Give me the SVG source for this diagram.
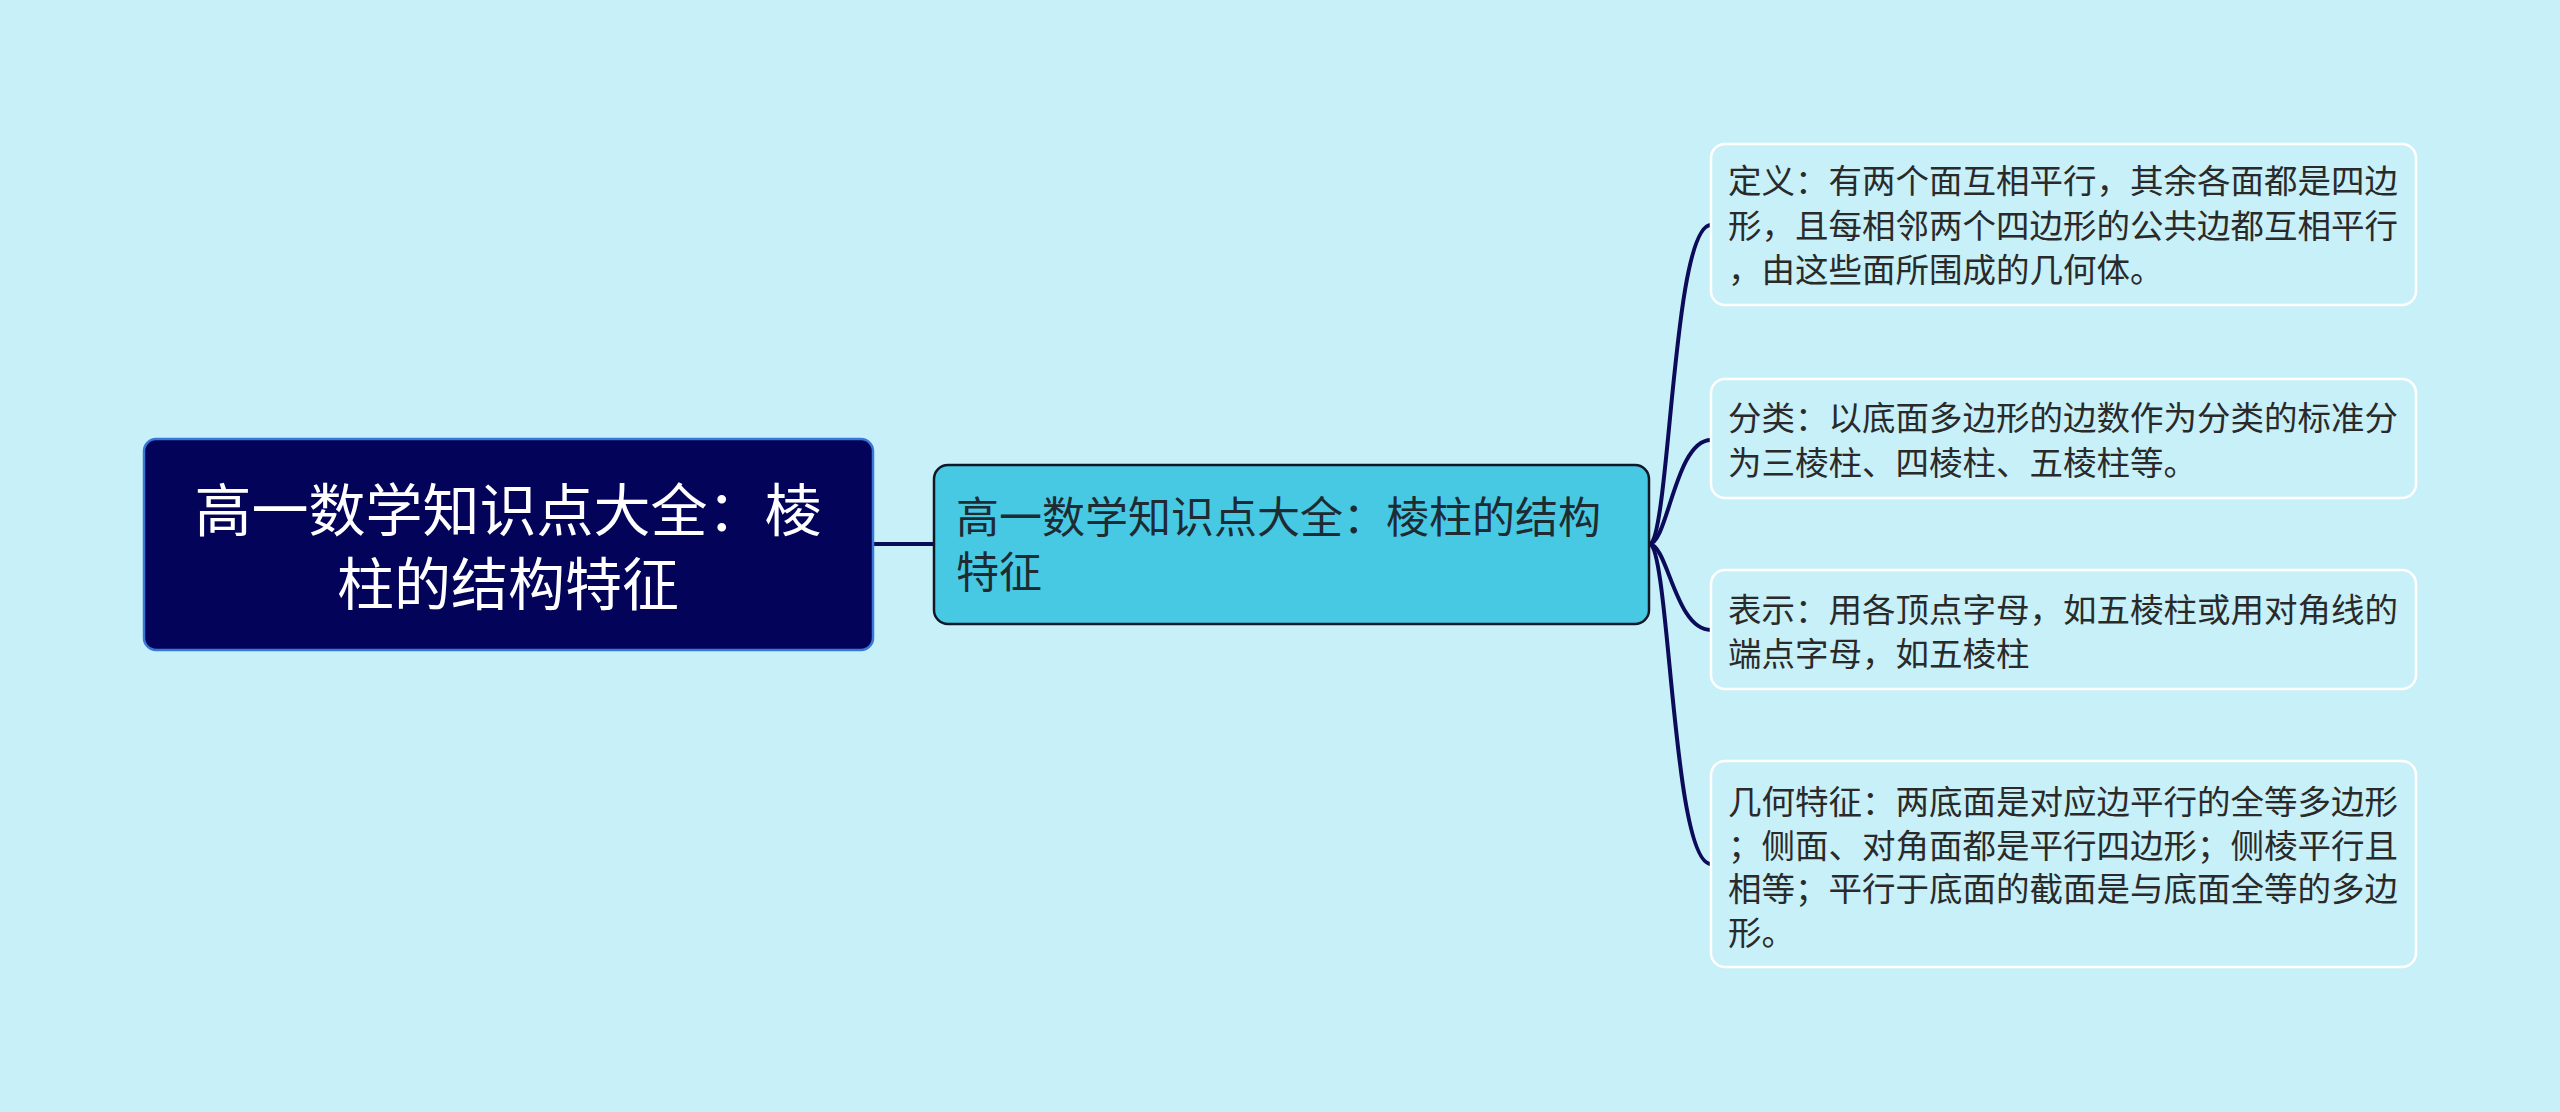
<svg xmlns="http://www.w3.org/2000/svg" width="2560" height="1112" viewBox="0 0 2560 1112">
<style>
text{font-family:"Noto Sans CJK SC","Noto Sans",sans-serif;}
.root rect{fill:#030359;stroke:#3a78d8;stroke-width:2.5;}
.root text{fill:#ffffff;font-size:57px;}
.mid rect{fill:#48c9e3;stroke:#101828;stroke-width:2.5;}
.mid text{fill:#1e2b33;font-size:43px;}
.leaf rect{fill:#c8f0f8;stroke:#ffffff;stroke-width:2.5;}
.leaf text{fill:#2a2a2a;font-size:33.5px;}
.conn path{fill:none;stroke:#0b0b5a;stroke-width:4;}
</style>
<rect width="2560" height="1112" fill="#c8f0f8"/>
<g class="conn">
<path d="M873,544 L934,544" stroke-width="5.5"/>
<path d="M1649,544 C1670,544 1672,225 1711,225"/>
<path d="M1649,544 C1668,544 1675,440 1711,440"/>
<path d="M1649,544 C1668,544 1675,630 1711,630"/>
<path d="M1649,544 C1670,544 1672,864 1711,864"/>
</g>
<g id="root" class="root">
<rect x="144" y="439" width="729" height="211" rx="12"/>
<text x="508" y="531" text-anchor="middle">高一数学知识点大全：棱</text>
<text x="508" y="605" text-anchor="middle">柱的结构特征</text>
</g>
<g id="mid" class="mid">
<rect x="934" y="465" width="715" height="159" rx="14"/>
<text x="956" y="533">高一数学知识点大全：棱柱的结构</text>
<text x="956" y="588">特征</text>
</g>
<g id="leaf1" class="leaf">
<rect x="1711" y="144" width="705" height="161" rx="14"/>
<text x="1728" y="193">定义：有两个面互相平行，其余各面都是四边</text>
<text x="1728" y="238">形，且每相邻两个四边形的公共边都互相平行</text>
<text x="1728" y="282">，由这些面所围成的几何体。</text>
</g>
<g id="leaf2" class="leaf">
<rect x="1711" y="379" width="705" height="119" rx="14"/>
<text x="1728" y="430">分类：以底面多边形的边数作为分类的标准分</text>
<text x="1728" y="475">为三棱柱、四棱柱、五棱柱等。</text>
</g>
<g id="leaf3" class="leaf">
<rect x="1711" y="570" width="705" height="119" rx="14"/>
<text x="1728" y="622">表示：用各顶点字母，如五棱柱或用对角线的</text>
<text x="1728" y="666">端点字母，如五棱柱</text>
</g>
<g id="leaf4" class="leaf">
<rect x="1711" y="761" width="705" height="206" rx="14"/>
<text x="1728" y="814">几何特征：两底面是对应边平行的全等多边形</text>
<text x="1728" y="858">；侧面、对角面都是平行四边形；侧棱平行且</text>
<text x="1728" y="901">相等；平行于底面的截面是与底面全等的多边</text>
<text x="1728" y="945">形。</text>
</g>
</svg>
